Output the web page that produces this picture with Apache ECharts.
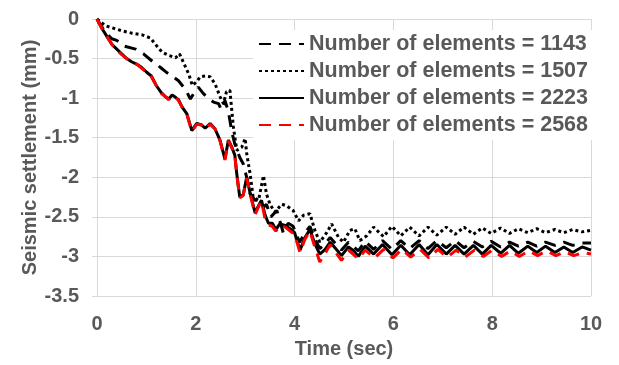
<!DOCTYPE html>
<html>
<head>
<meta charset="utf-8">
<script src="https://cdn.jsdelivr.net/npm/echarts@6/dist/echarts.min.js"></script>
<style>
  html, body { margin: 0; padding: 0; background: #fff; }
  #chart { width: 619px; height: 365px; }
</style>
</head>
<body>
<div id="chart"></div>
<script>
// Seismic settlement time histories for four mesh densities
const seriesNames = [
  'Number of elements = 1143',
  'Number of elements = 1507',
  'Number of elements = 2223',
  'Number of elements = 2568'
];

// 1143 elements (dashed black)
const t1143 = [0, 0.17, 0.3, 0.4, 0.54, 0.78, 0.94, 1.15, 1.28, 1.42, 1.52, 1.65, 1.79, 1.89, 1.98, 2.05, 2.15, 2.25, 2.36, 2.46, 2.52, 2.59, 2.66, 2.73, 2.79, 2.89, 2.96, 3.03, 3.10, 3.20, 3.30, 3.37, 3.43, 3.52, 3.64, 3.77, 3.87, 3.97, 4.10, 4.21, 4.31, 4.41, 4.51, 4.62, 4.72, 4.83, 4.95, 5.09, 5.20, 5.29, 5.43, 5.60, 5.78, 5.97, 6.15, 6.33, 6.52, 6.70, 6.88, 7.07, 7.25, 7.43, 7.62, 7.80, 7.98, 8.17, 8.35, 8.53, 8.72, 8.90, 9.08, 9.27, 9.45, 9.63, 9.82, 10.0];
const v1143 = [0, -0.17, -0.25, -0.27, -0.34, -0.38, -0.44, -0.55, -0.61, -0.68, -0.72, -0.78, -0.89, -1.01, -0.92, -0.86, -0.94, -1.00, -1.05, -1.07, -1.15, -1.03, -1.17, -1.43, -1.58, -1.75, -1.83, -2.00, -2.21, -2.29, -2.29, -2.38, -2.34, -2.50, -2.42, -2.70, -2.58, -2.62, -2.82, -2.70, -2.62, -2.78, -2.90, -2.84, -2.76, -2.84, -2.92, -2.82, -2.88, -2.93, -2.81, -2.91, -2.80, -2.91, -2.80, -2.90, -2.80, -2.90, -2.80, -2.89, -2.80, -2.89, -2.81, -2.88, -2.81, -2.88, -2.82, -2.87, -2.82, -2.87, -2.82, -2.86, -2.82, -2.86, -2.83, -2.83];

// 1507 elements (dotted black)
const t1507 = [0, 0.17, 0.3, 0.51, 0.71, 0.91, 1.08, 1.21, 1.32, 1.45, 1.59, 1.67, 1.75, 1.86, 1.93, 2.02, 2.09, 2.19, 2.29, 2.39, 2.49, 2.56, 2.62, 2.69, 2.76, 2.83, 2.93, 3.0, 3.03, 3.10, 3.16, 3.27, 3.37, 3.43, 3.50, 3.60, 3.74, 3.84, 3.97, 4.08, 4.18, 4.31, 4.41, 4.51, 4.65, 4.75, 4.89, 4.99, 5.12, 5.22, 5.32, 5.46, 5.60, 5.80, 5.97, 6.15, 6.33, 6.52, 6.70, 6.88, 7.07, 7.25, 7.43, 7.62, 7.80, 7.98, 8.17, 8.35, 8.53, 8.72, 8.90, 9.08, 9.27, 9.45, 9.63, 9.82, 10.0];
const v1507 = [0, -0.085, -0.11, -0.15, -0.18, -0.20, -0.24, -0.34, -0.42, -0.46, -0.49, -0.44, -0.55, -0.70, -0.84, -0.79, -0.73, -0.72, -0.73, -0.82, -0.98, -1.07, -0.92, -0.90, -1.36, -1.66, -1.62, -1.51, -1.70, -1.96, -2.25, -2.29, -1.98, -2.21, -2.34, -2.44, -2.34, -2.36, -2.42, -2.55, -2.48, -2.46, -2.67, -2.82, -2.70, -2.59, -2.76, -2.82, -2.67, -2.65, -2.80, -2.74, -2.63, -2.75, -2.62, -2.74, -2.63, -2.74, -2.63, -2.73, -2.63, -2.72, -2.63, -2.72, -2.64, -2.71, -2.64, -2.71, -2.65, -2.70, -2.65, -2.70, -2.66, -2.70, -2.66, -2.69, -2.67];

// 2223 elements (solid black)
const t2223 = [0, 0.1, 0.2, 0.3, 0.4, 0.5, 0.6, 0.7, 0.8, 0.9, 1.0, 1.1, 1.2, 1.3, 1.4, 1.45, 1.52, 1.59, 1.65, 1.72, 1.82, 1.92, 2.02, 2.12, 2.19, 2.29, 2.39, 2.49, 2.59, 2.66, 2.73, 2.79, 2.83, 2.89, 2.96, 3.03, 3.10, 3.20, 3.27, 3.33, 3.40, 3.47, 3.55, 3.62, 3.70, 3.81, 3.91, 4.0, 4.11, 4.21, 4.31, 4.41, 4.51, 4.62, 4.72, 4.83, 4.95, 5.09, 5.20, 5.29, 5.43, 5.60, 5.78, 5.97, 6.15, 6.33, 6.52, 6.70, 6.88, 7.07, 7.25, 7.43, 7.62, 7.80, 7.98, 8.17, 8.35, 8.53, 8.72, 8.90, 9.08, 9.27, 9.45, 9.63, 9.82, 10.0];
const v2223 = [0, -0.12, -0.22, -0.32, -0.38, -0.44, -0.50, -0.54, -0.57, -0.61, -0.67, -0.72, -0.84, -0.93, -0.99, -1.01, -0.96, -0.99, -1.02, -1.11, -1.20, -1.41, -1.32, -1.34, -1.38, -1.32, -1.39, -1.53, -1.77, -1.53, -1.62, -1.72, -1.96, -2.25, -2.22, -2.00, -2.20, -2.45, -2.36, -2.29, -2.47, -2.58, -2.58, -2.66, -2.59, -2.61, -2.65, -2.70, -2.92, -2.76, -2.66, -2.84, -2.97, -2.91, -2.82, -2.90, -2.99, -2.88, -2.93, -3.00, -2.87, -2.97, -2.85, -2.98, -2.86, -2.98, -2.85, -2.98, -2.85, -2.97, -2.86, -2.97, -2.86, -2.97, -2.86, -2.96, -2.86, -2.96, -2.87, -2.95, -2.87, -2.95, -2.88, -2.95, -2.88, -2.92];

// 2568 elements (dashed red)
const t2568 = [0, 0.1, 0.2, 0.3, 0.4, 0.5, 0.6, 0.7, 0.8, 0.9, 1.0, 1.1, 1.2, 1.3, 1.4, 1.45, 1.52, 1.59, 1.65, 1.72, 1.82, 1.92, 2.02, 2.12, 2.19, 2.29, 2.39, 2.49, 2.59, 2.66, 2.73, 2.79, 2.83, 2.89, 2.96, 3.03, 3.10, 3.20, 3.27, 3.33, 3.40, 3.47, 3.55, 3.62, 3.70, 3.81, 3.91, 4.0, 4.11, 4.21, 4.31, 4.41, 4.51, 4.62, 4.72, 4.83, 4.95, 5.09, 5.20, 5.29, 5.43, 5.62, 5.80, 5.99, 6.17, 6.35, 6.54, 6.72, 6.90, 7.09, 7.27, 7.45, 7.64, 7.82, 8.00, 8.19, 8.37, 8.55, 8.74, 8.92, 9.10, 9.29, 9.47, 9.65, 9.84, 10.0];
const v2568 = [0, -0.12, -0.22, -0.32, -0.39, -0.45, -0.50, -0.54, -0.57, -0.62, -0.67, -0.73, -0.84, -0.94, -0.99, -1.02, -0.97, -0.99, -1.03, -1.11, -1.21, -1.42, -1.33, -1.34, -1.39, -1.33, -1.39, -1.54, -1.78, -1.54, -1.63, -1.73, -1.97, -2.26, -2.23, -2.01, -2.21, -2.47, -2.37, -2.30, -2.52, -2.60, -2.62, -2.68, -2.61, -2.63, -2.68, -2.72, -2.95, -2.78, -2.68, -2.88, -3.07, -2.96, -2.85, -2.95, -3.05, -2.92, -2.98, -3.03, -2.92, -3.02, -2.91, -3.02, -2.91, -3.01, -2.91, -3.02, -2.91, -3.01, -2.92, -3.01, -2.92, -3.00, -2.92, -3.00, -2.93, -3.00, -2.93, -2.99, -2.93, -2.99, -2.94, -2.99, -2.95, -2.97];

// Axis ticks
const xTicks = { min: 0, max: 10, step: 2 };
const yTicks = { min: -3.5, max: 0, step: 0.5 };

const pairs = (t, v) => t.map((x, i) => [x, v[i]]);

const FONT = "'Liberation Sans', Arial, sans-serif";
const TXT = '#595959';
const GRID = '#d9d9d9';

const chart = echarts.init(document.getElementById('chart'), null, { renderer: 'canvas' });

const lineBase = { type: 'line', symbol: 'none', smooth: false, animation: false };

chart.setOption({
  backgroundColor: '#ffffff',
  animation: false,
  grid: { left: 97, right: 28, top: 19, bottom: 69 },
  legend: {
    orient: 'vertical',
    left: 253,
    top: 30,
    padding: [3, 6, 4, 5],
    backgroundColor: '#ffffff',
    itemWidth: 45,
    itemHeight: 14,
    itemGap: 5,
    // line-only keys: hide the marker normally drawn on a line icon
    itemStyle: { color: 'rgba(0,0,0,0)', borderColor: 'rgba(0,0,0,0)', borderWidth: 0 },
    textStyle: { fontFamily: FONT, fontWeight: 'bold', fontSize: 21.5, color: TXT, lineHeight: 20.5 },
    data: seriesNames
  },
  xAxis: {
    type: 'value',
    min: xTicks.min, max: xTicks.max, interval: xTicks.step,
    name: 'Time (sec)',
    nameLocation: 'middle',
    nameGap: 43,
    nameMoveOverlap: false,
    nameTextStyle: { fontFamily: FONT, fontWeight: 'bold', fontSize: 20, color: TXT },
    axisLine: { show: true, lineStyle: { color: GRID, width: 1 } },
    axisTick: { show: true, length: 5, lineStyle: { color: GRID } },
    axisLabel: { fontFamily: FONT, fontWeight: 'bold', fontSize: 20, color: TXT, margin: 18 },
    splitLine: { show: true, lineStyle: { color: GRID, width: 1 } }
  },
  yAxis: {
    type: 'value',
    min: yTicks.min, max: yTicks.max, interval: yTicks.step,
    name: 'Seismic settlement (mm)',
    nameLocation: 'middle',
    nameRotate: 90,
    nameGap: 57,
    nameMoveOverlap: false,
    nameTextStyle: { fontFamily: FONT, fontWeight: 'bold', fontSize: 20, color: TXT },
    axisLine: { show: true, onZero: false, lineStyle: { color: GRID, width: 1 } },
    axisTick: { show: true, length: 5, lineStyle: { color: GRID } },
    axisLabel: { fontFamily: FONT, fontWeight: 'bold', fontSize: 20, color: TXT, margin: 18 },
    splitLine: { show: true, lineStyle: { color: GRID, width: 1 } }
  },
  series: [
    Object.assign({}, lineBase, {
      name: seriesNames[0], data: pairs(t1143, v1143),
      lineStyle: { color: '#000000', width: 3, type: [12, 8] }
    }),
    Object.assign({}, lineBase, {
      name: seriesNames[1], data: pairs(t1507, v1507),
      lineStyle: { color: '#000000', width: 3, type: [3, 3] }
    }),
    Object.assign({}, lineBase, {
      name: seriesNames[2], data: pairs(t2223, v2223),
      lineStyle: { color: '#000000', width: 3, type: 'solid' }
    }),
    Object.assign({}, lineBase, {
      name: seriesNames[3], data: pairs(t2568, v2568),
      lineStyle: { color: '#ff0000', width: 3, type: [12, 8] }
    })
  ]
});
</script>
</body>
</html>
